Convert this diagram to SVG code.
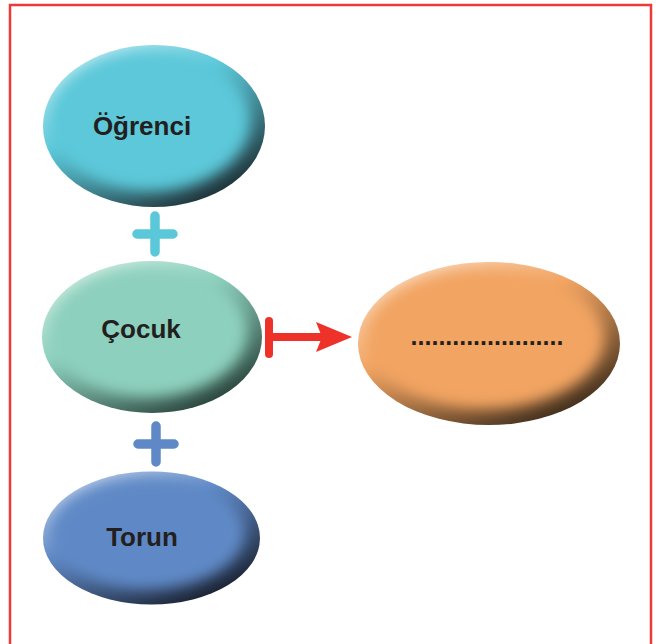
<svg xmlns="http://www.w3.org/2000/svg" width="667" height="644" viewBox="0 0 667 644">
<style>
.lbl{font-family:"Liberation Sans",Arial,sans-serif;font-weight:bold;font-size:26px;fill:#231f20;text-anchor:middle}
.dots{font-size:25px}
.plus{fill:none;stroke-width:9.5;stroke-linecap:round}
.red{stroke:#ee3129;fill:none;stroke-width:8}
</style>
<defs>
<filter id="soft" x="-30%" y="-30%" width="160%" height="160%"><feGaussianBlur stdDeviation="7"/></filter>
<linearGradient id="gCyan" x1="0" y1="0" x2="0.7" y2="1"><stop offset="0" stop-color="#e6f7fa"/><stop offset="0.45" stop-color="#5bc8d9"/><stop offset="1" stop-color="#1e3036"/></linearGradient>
<linearGradient id="gGreen" x1="0" y1="0" x2="0.7" y2="1"><stop offset="0" stop-color="#eef8f4"/><stop offset="0.45" stop-color="#8dd0bd"/><stop offset="1" stop-color="#2a443c"/></linearGradient>
<linearGradient id="gBlue" x1="0" y1="0" x2="0.7" y2="1"><stop offset="0" stop-color="#e8eef8"/><stop offset="0.45" stop-color="#5f89c6"/><stop offset="1" stop-color="#1a2232"/></linearGradient>
<linearGradient id="gOrange" x1="0" y1="0" x2="0.7" y2="1"><stop offset="0" stop-color="#fdf0e4"/><stop offset="0.45" stop-color="#f2a462"/><stop offset="1" stop-color="#402e1c"/></linearGradient>
<clipPath id="c1"><ellipse cx="154" cy="126" rx="111" ry="81"/></clipPath>
<clipPath id="c2"><ellipse cx="152" cy="337" rx="110" ry="76"/></clipPath>
<clipPath id="c3"><ellipse cx="151.5" cy="538" rx="108.5" ry="66.5"/></clipPath>
<clipPath id="c4"><ellipse cx="489" cy="343.5" rx="131" ry="81.5"/></clipPath>
</defs>
<rect x="10" y="5" width="641" height="660" fill="none" stroke="#ee3a36" stroke-width="2.5"/>
<g id="connectors">
<path class="plus" stroke="#5bc8d9" d="M155 216V252M137 234H173"/>
<path class="plus" stroke="#5f89c6" d="M156 426V462M138 444H174"/>
<path class="red" stroke-linecap="round" d="M269 321V354"/>
<path class="red" d="M269 337H324"/>
<polygon fill="#ee3129" points="316,322 352,337 316,352 322,337"/>
</g>
<g id="ogrenci">
<ellipse cx="154" cy="126" rx="111" ry="81" fill="url(#gCyan)"/>
<g clip-path="url(#c1)"><ellipse cx="150" cy="121" rx="100" ry="70" fill="#5bc8d9" filter="url(#soft)"/></g>
<text class="lbl" x="142" y="135">Öğrenci</text>
</g>
<g id="cocuk">
<ellipse cx="152" cy="337" rx="110" ry="76" fill="url(#gGreen)"/>
<g clip-path="url(#c2)"><ellipse cx="148" cy="332" rx="99" ry="65" fill="#8dd0bd" filter="url(#soft)"/></g>
<text class="lbl" x="141" y="338">Çocuk</text>
</g>
<g id="torun">
<ellipse cx="151.5" cy="538" rx="108.5" ry="66.5" fill="url(#gBlue)"/>
<g clip-path="url(#c3)"><ellipse cx="147.5" cy="533" rx="97" ry="56" fill="#5f89c6" filter="url(#soft)"/></g>
<text class="lbl" x="142" y="546">Torun</text>
</g>
<g id="blank">
<ellipse cx="489" cy="343.5" rx="131" ry="81.5" fill="url(#gOrange)"/>
<g clip-path="url(#c4)"><ellipse cx="485" cy="338.5" rx="119" ry="70" fill="#f2a462" filter="url(#soft)"/></g>
<text class="lbl dots" x="487" y="345">......................</text>
</g>
</svg>
